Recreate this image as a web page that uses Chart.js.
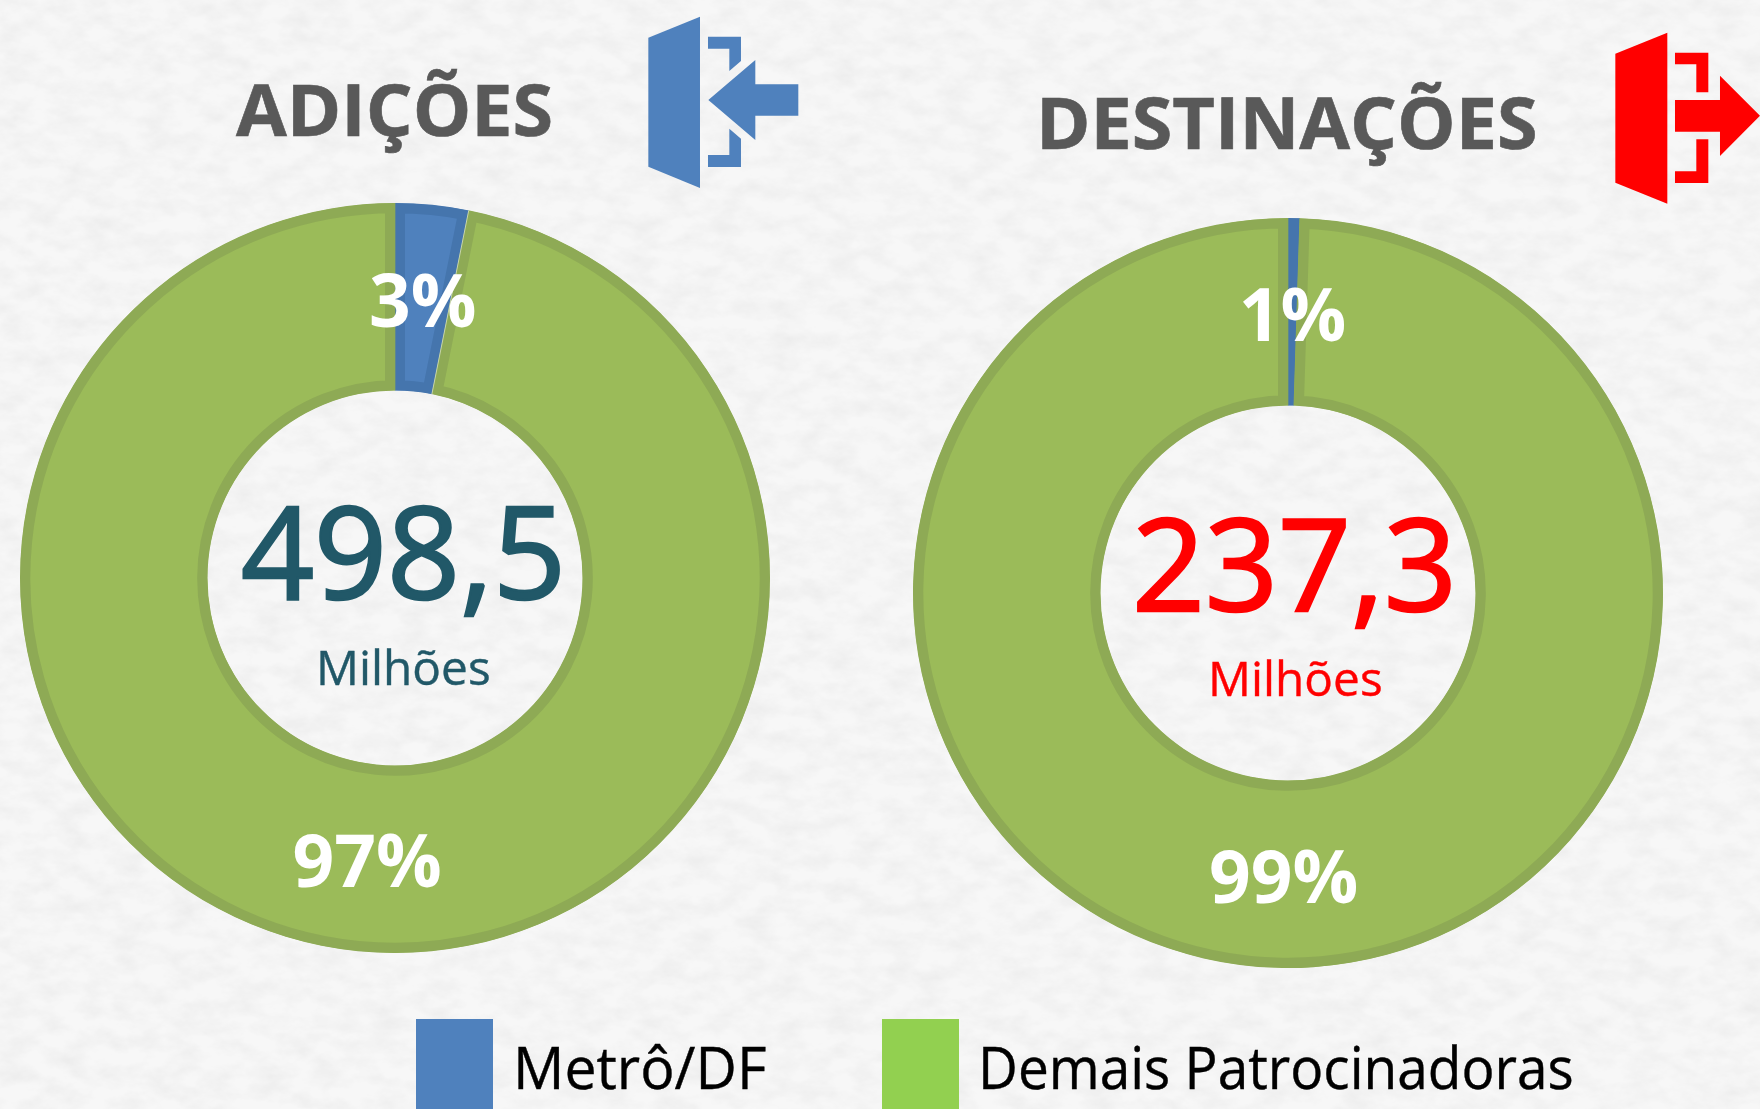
<!DOCTYPE html>
<html lang="pt">
<head>
<meta charset="utf-8">
<title>Adições e Destinações</title>
<script src="https://cdn.jsdelivr.net/npm/chart.js@4"></script>
<style>
	html, body { margin: 0; padding: 0; }
	body { width: 1760px; height: 1109px; position: relative; overflow: hidden; background: #f7f7f7; font-family: "Open Sans", Lato, sans-serif; }
	canvas { position: absolute; }
	.txt { position: absolute; white-space: nowrap; line-height: 1; transform-origin: 0 100%; }
	.title { font-weight: 700; font-size: 72px; color: #595959; transform: scaleX(1.023); -webkit-text-stroke: 0.6px #595959; }
	.big { font-size: 129px; transform: scaleX(0.99); -webkit-text-stroke: 2.5px currentColor; }
	.unit { font-size: 47px; transform: scaleX(1.016); -webkit-text-stroke: 0.4px currentColor; }
	.legend { font-size: 58px; color: #000; -webkit-text-stroke: 0.4px #000; }
	.swatch { position: absolute; top: 1019px; width: 77px; height: 90px; }
	svg { position: absolute; left: 0; top: 0; }
</style>
</head>
<body>
<svg width="1760" height="1109">
	<filter id="paper" x="0" y="0" width="100%" height="100%">
		<feTurbulence type="fractalNoise" baseFrequency="0.035 0.06" numOctaves="4" seed="7"/>
		<feColorMatrix type="matrix" values="0 0 0 0 0.6  0 0 0 0 0.6  0 0 0 0 0.6  0.4 0 0 0 -0.14"/>
	</filter>
	<rect width="1760" height="1109" filter="url(#paper)"/>
	<g fill="#4f81bd" transform="translate(620 0) scale(0.3333)">
		<polygon points="85,113 240,50 240,564 85,500"/>
		<polygon points="264,110 363,110 363,183 328,213 328,146 264,146"/>
		<polygon points="264,465 328,465 328,386 363,416 363,501 264,501"/>
		<polygon points="265,300 406,180 406,253 535,253 535,347 406,347 406,420"/>
	</g>
	<g fill="#ff0000" transform="translate(1590 10) scale(0.3333)">
		<polygon points="76,131 232,68 232,581 76,518"/>
		<polygon points="255,128 355,128 355,247 319,247 319,163 255,163"/>
		<polygon points="255,484 319,484 319,388 355,388 355,519 255,519"/>
		<polygon points="255,270 390,270 390,197 510,317 390,438 390,365 255,365"/>
	</g>
</svg>

<div class="txt title" style="left:236px;top:72px">ADIÇÕES</div>
<div class="txt title" style="left:1036px;top:85px">DESTINAÇÕES</div>

<canvas id="chartAdicoes" width="750" height="750" style="left:20px;top:203px"></canvas>
<canvas id="chartDestinacoes" width="750" height="750" style="left:913px;top:218px"></canvas>

<div class="txt big" style="left:241px;top:485px;color:#215868">498,5</div>
<div class="txt unit" style="left:316px;top:644px;color:#215868">Milhões</div>
<div class="txt big" style="left:1132px;top:497px;color:#ff0000">237,3</div>
<div class="txt unit" style="left:1208px;top:655px;color:#ff0000">Milhões</div>

<div class="swatch" style="left:416px;background:#4f81bd"></div>
<div class="txt legend" style="left:513px;top:1038px;transform:scaleX(0.985)">Metrô/DF</div>
<div class="swatch" style="left:882px;background:#92d050"></div>
<div class="txt legend" style="left:978px;top:1038px;transform:scaleX(0.948)">Demais Patrocinadoras</div>

<script>
(function () {
	'use strict';

	// ─── Data ───
	var categories = ['Metrô/DF', 'Demais Patrocinadoras'];
	var adicoesValues = [3.15, 96.85];
	var adicoesLabels = ['3%', '97%'];
	var destinacoesValues = [0.5, 99.5];
	var destinacoesLabels = ['1%', '99%'];

	var sliceFill = ['#4f81bd', '#9bbb59'];
	var sliceEdge = ['#4575ad', '#8eaa55'];

	// slice percent labels at the middle of each arc, plus the light seam after the first slice
	var sliceLabels = {
		id: 'sliceLabels',
		afterDatasetsDraw: function (chart) {
			var ctx = chart.ctx;
			var opts = chart.options.plugins.sliceLabels;
			var arcs = chart.getDatasetMeta(0).data;
			var first = arcs[0];

			ctx.save();
			if (opts.seam) {
				ctx.strokeStyle = 'rgba(255,255,255,0.5)';
				ctx.lineWidth = 1;
				ctx.beginPath();
				ctx.moveTo(first.x + Math.cos(first.endAngle) * first.innerRadius, first.y + Math.sin(first.endAngle) * first.innerRadius);
				ctx.lineTo(first.x + Math.cos(first.endAngle) * first.outerRadius, first.y + Math.sin(first.endAngle) * first.outerRadius);
				ctx.stroke();
			}

			ctx.font = '700 73px "Open Sans", sans-serif';
			ctx.fillStyle = '#ffffff';
			ctx.textAlign = 'center';
			ctx.textBaseline = 'middle';
			arcs.forEach(function (arc, i) {
				var pos = arc.tooltipPosition();
				ctx.fillText(opts.labels[i], pos.x, pos.y + 8);
			});
			ctx.restore();
		}
	};

	function drawDonut(id, values, labels, seam) {
		new Chart(document.getElementById(id), {
			type: 'doughnut',
			data: {
				labels: categories,
				datasets: [{
					data: values,
					backgroundColor: sliceFill,
					borderColor: sliceEdge,
					borderWidth: 10,
					borderAlign: 'inner',
					borderJoinStyle: 'miter'
				}]
			},
			options: {
				responsive: false,
				animation: false,
				cutout: '50%',
				plugins: {
					legend: { display: false },
					tooltip: { enabled: false },
					sliceLabels: { labels: labels, seam: seam }
				}
			},
			plugins: [sliceLabels]
		});
	}

	drawDonut('chartAdicoes', adicoesValues, adicoesLabels, true);
	drawDonut('chartDestinacoes', destinacoesValues, destinacoesLabels, false);
})();
</script>
</body>
</html>
